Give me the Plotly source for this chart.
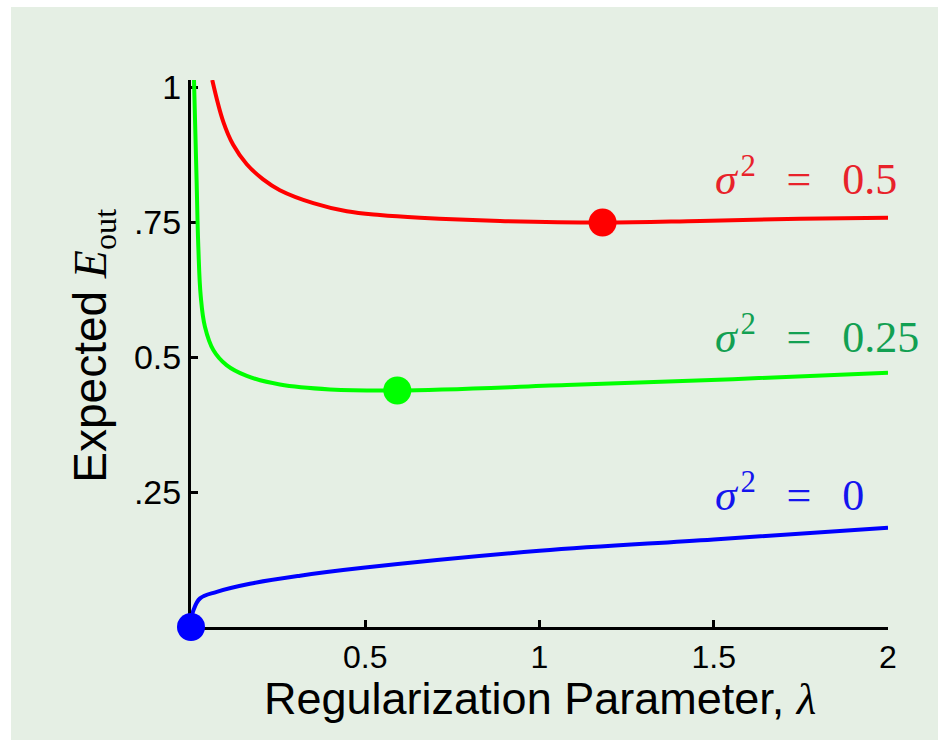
import plotly.graph_objects as go

# ---- data ----
lam_red = [0.061, 0.093, 0.121, 0.160, 0.207, 0.255, 0.351, 0.447, 0.542, 0.657, 0.887, 1.181, 1.461, 1.748, 2.0]
e_red = [1.013, 0.935, 0.893, 0.857, 0.829, 0.809, 0.785, 0.770, 0.763, 0.758, 0.752, 0.749, 0.752, 0.756, 0.758]

lam_green = [0.0086, 0.016, 0.021, 0.028, 0.040, 0.064, 0.102, 0.160, 0.255, 0.399, 0.592, 1.078, 1.555, 2.0]
e_green = [1.013, 0.828, 0.704, 0.612, 0.556, 0.513, 0.485, 0.465, 0.449, 0.440, 0.438, 0.448, 0.459, 0.471]

lam_blue = [0.0, 0.002, 0.007, 0.026, 0.074, 0.169, 0.313, 0.5, 1.0, 1.5, 2.0]
e_blue = [0.0, 0.018, 0.031, 0.053, 0.065, 0.080, 0.095, 0.110, 0.141, 0.162, 0.184]

min_lam = [0.0, 0.592, 1.181]
min_e = [0.0, 0.438, 0.749]

noise_levels = ["0", "0.25", "0.5"]
x_tickvals = [0.5, 1, 1.5, 2]
x_ticktext = ["0.5", "1", "1.5", "2"]
y_tickvals = [0.25, 0.5, 0.75, 1]
y_ticktext = [".25", "0.5", ".75", "1"]

line_colors = ["#0000ff", "#00ff00", "#ff0000"]
text_colors = ["#1414ee", "#12a052", "#e8222a"]
BG = "#e5efe4"

fig = go.Figure()
for lx, ly, c in [(lam_blue, e_blue, line_colors[0]),
                  (lam_green, e_green, line_colors[1]),
                  (lam_red, e_red, line_colors[2])]:
    fig.add_trace(go.Scatter(x=lx, y=ly, mode="lines",
                             line=dict(color=c, width=4, shape="spline", smoothing=1.1),
                             hoverinfo="skip", showlegend=False))

fig.add_trace(go.Scatter(x=min_lam, y=min_e, mode="markers",
                         marker=dict(color=line_colors, size=28, line=dict(width=0)),
                         cliponaxis=False, showlegend=False, hoverinfo="skip"))

SP = "\u2002\u2009"
label_pos = [(1.497, 0.250), (1.497, 0.542), (1.497, 0.835)]
for (lx, ly), col, lvl in zip(label_pos, text_colors, noise_levels):
    fig.add_annotation(x=lx, y=ly, xref="x", yref="y", xanchor="left", yanchor="middle",
                       text=f"<i>σ</i>\u200a<sup>2</sup>{SP}={SP}{lvl}", showarrow=False,
                       font=dict(family="Liberation Serif", size=44, color=col))

# axis titles
fig.add_annotation(x=1.0, y=-0.131, xref="x", yref="paper", xanchor="center", yanchor="middle",
                   text="Regularization Parameter, <span style='font-family:Liberation Serif'><i>λ</i></span>",
                   showarrow=False, font=dict(family="Liberation Sans", size=45, color="black"))
fig.add_annotation(x=-0.14, y=0.515, xref="paper", yref="paper", xanchor="center", yanchor="middle",
                   textangle=-90,
                   text="Expected <span style='font-family:Liberation Serif'><i>E</i><sub>out</sub></span>",
                   showarrow=False, font=dict(family="Liberation Sans", size=46, color="black"))

# white margin strips (top and left)
fig.add_shape(type="rect", xref="paper", yref="paper", x0=-0.4, x1=-0.2582, y0=-0.5, y1=1.5,
              fillcolor="white", line=dict(width=0), layer="below")
fig.add_shape(type="rect", xref="paper", yref="paper", x0=-0.4, x1=1.5, y0=1.1335, y1=1.5,
              fillcolor="white", line=dict(width=0), layer="below")

fig.update_layout(
    width=938, height=740,
    margin=dict(l=191, r=50, t=80, b=113, autoexpand=False),
    paper_bgcolor=BG, plot_bgcolor=BG,
    font=dict(family="Liberation Sans", size=32, color="black"),
    xaxis=dict(range=[0, 2], showgrid=False, zeroline=False, showline=True, linecolor="black",
               linewidth=3, ticks="inside", ticklen=7, tickwidth=3, tickcolor="black",
               tickvals=x_tickvals, ticktext=x_ticktext, layer="below traces"),
    yaxis=dict(range=[0, 1.013], showgrid=False, zeroline=False, showline=True, linecolor="black",
               linewidth=3, ticks="inside", ticklen=7, tickwidth=3, tickcolor="black",
               tickvals=y_tickvals, ticktext=y_ticktext, tickfont=dict(size=34),
               layer="below traces"),
)

fig.write_html("out.html", config={"displayModeBar": False},
               post_script="document.body.style.margin='0';")
